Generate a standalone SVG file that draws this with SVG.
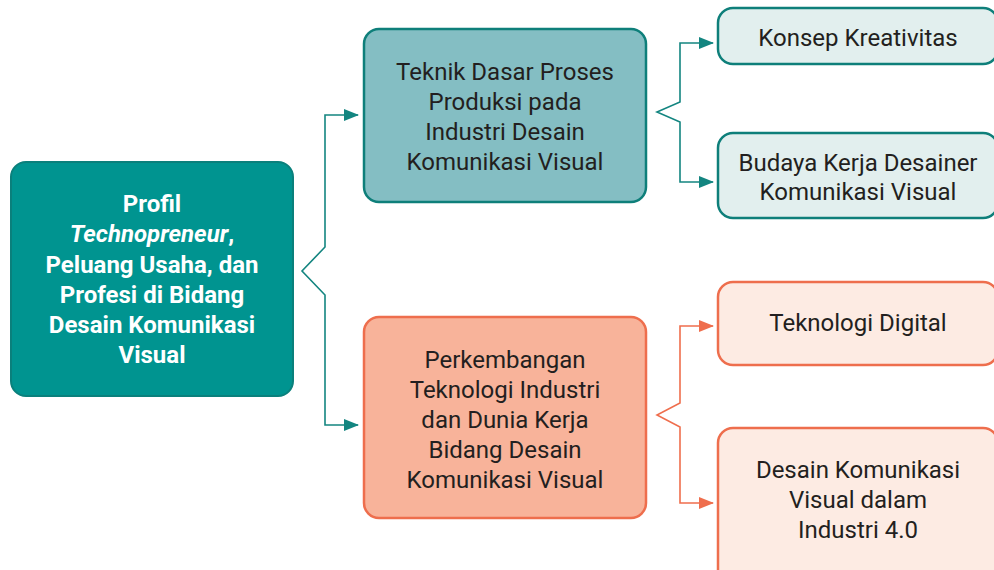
<svg xmlns="http://www.w3.org/2000/svg" width="994" height="570" viewBox="0 0 994 570">
  <style>
    text { font-family: Roboto, "Liberation Sans", sans-serif; font-size: 24px; text-anchor: middle; fill: #231f20; }
    .main text { fill: #ffffff; font-weight: bold; }
    .teal-line { fill: none; stroke: #138580; stroke-width: 1.6; }
    .orange-line { fill: none; stroke: #ef6e4d; stroke-width: 1.6; }
  </style>
  <defs>
    <marker id="arrow-teal" markerWidth="15" markerHeight="12" refX="14" refY="6" orient="auto-start-reverse" markerUnits="userSpaceOnUse" viewBox="0 0 15 12">
      <path d="M0,0 L15,6 L0,12 Z" fill="#138580"/>
    </marker>
    <marker id="arrow-orange" markerWidth="15" markerHeight="12" refX="14" refY="6" orient="auto-start-reverse" markerUnits="userSpaceOnUse" viewBox="0 0 15 12">
      <path d="M0,0 L15,6 L0,12 Z" fill="#ef6e4d"/>
    </marker>
  </defs>

  <g id="connectors">
    <!-- root bracket -->
    <path class="teal-line" d="M358,115 H325 V247 L302,271 L325,295 V425 H358" marker-start="url(#arrow-teal)" marker-end="url(#arrow-teal)"/>
    <!-- upper branch bracket -->
    <path class="teal-line" d="M713,43 H680 V102 L657,112 L680,122 V182 H713" marker-start="url(#arrow-teal)" marker-end="url(#arrow-teal)"/>
    <!-- lower branch bracket -->
    <path class="orange-line" d="M713,326 H680 V403 L657,415 L680,427 V503 H713" marker-start="url(#arrow-orange)" marker-end="url(#arrow-orange)"/>
  </g>

  <g id="root" class="main">
    <rect x="11" y="162" width="282" height="234" rx="15" fill="#009490" stroke="#0a807c" stroke-width="2"/>
    <text x="152" y="212">Profil</text>
    <text x="152" y="242"><tspan font-style="italic">Technopreneur</tspan>,</text>
    <text x="152" y="273">Peluang Usaha, dan</text>
    <text x="152" y="303">Profesi di Bidang</text>
    <text x="152" y="333">Desain Komunikasi</text>
    <text x="152" y="363">Visual</text>
  </g>

  <g id="teknik-dasar">
    <rect x="364" y="29" width="282" height="173" rx="15" fill="#84bec3" stroke="#0e7f7a" stroke-width="2.5"/>
    <text x="505" y="80">Teknik Dasar Proses</text>
    <text x="505" y="110">Produksi pada</text>
    <text x="505" y="140">Industri Desain</text>
    <text x="505" y="170">Komunikasi Visual</text>
  </g>

  <g id="perkembangan">
    <rect x="364" y="317" width="282" height="201" rx="15" fill="#f8b39a" stroke="#ee6e4d" stroke-width="2.5"/>
    <text x="505" y="368">Perkembangan</text>
    <text x="505" y="398">Teknologi Industri</text>
    <text x="505" y="428">dan Dunia Kerja</text>
    <text x="505" y="458">Bidang Desain</text>
    <text x="505" y="488">Komunikasi Visual</text>
  </g>

  <g id="konsep-kreativitas">
    <rect x="718" y="8" width="280" height="56" rx="15" fill="#e2efee" stroke="#0e7f7a" stroke-width="2.5"/>
    <text x="858" y="46">Konsep Kreativitas</text>
  </g>

  <g id="budaya-kerja">
    <rect x="718" y="133" width="280" height="85" rx="15" fill="#e2efee" stroke="#0e7f7a" stroke-width="2.5"/>
    <text x="858" y="171">Budaya Kerja Desainer</text>
    <text x="858" y="200">Komunikasi Visual</text>
  </g>

  <g id="teknologi-digital">
    <rect x="718" y="282" width="280" height="83" rx="15" fill="#fdebe3" stroke="#ee6e4d" stroke-width="2.5"/>
    <text x="858" y="331">Teknologi Digital</text>
  </g>

  <g id="dkv-industri">
    <rect x="718" y="428" width="280" height="160" rx="15" fill="#fdebe3" stroke="#ee6e4d" stroke-width="2.5"/>
    <text x="858" y="478">Desain Komunikasi</text>
    <text x="858" y="508">Visual dalam</text>
    <text x="858" y="538">Industri 4.0</text>
  </g>
</svg>
